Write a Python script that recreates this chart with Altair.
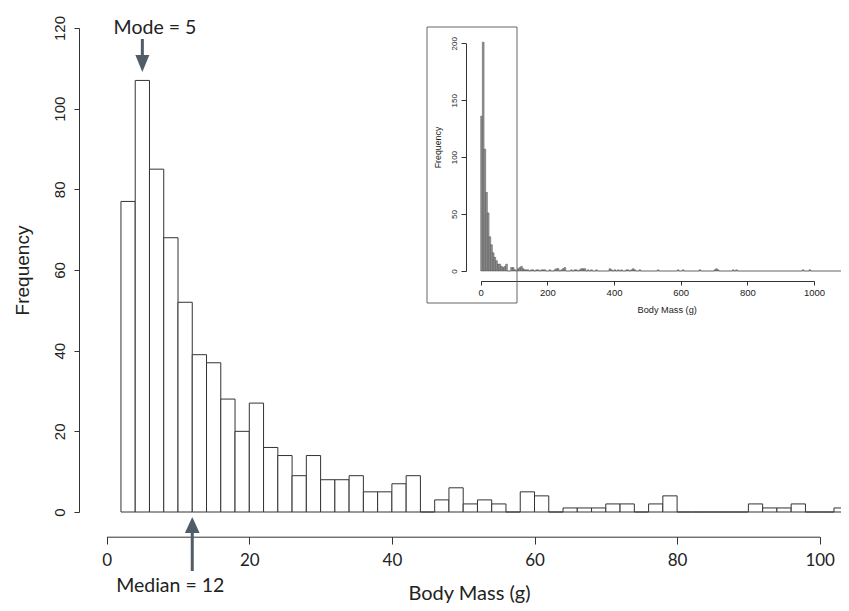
import altair as alt
import pandas as pd

# ---------------- data ----------------
main_bin_width = 2
main_first_edge = 2
main_counts = [77, 107, 85, 68, 52, 39, 37, 28, 20, 27,
               16, 14, 9, 14, 8, 8, 9, 5, 5, 7,
               9, 0, 3, 6, 2, 3, 2, 0, 5, 4,
               0, 1, 1, 1, 2, 2, 0, 2, 4, 0,
               0, 0, 0, 0, 2, 1, 1, 2, 0, 0,
               1]
main_x_ticks = [0, 20, 40, 60, 80, 100]
main_y_ticks = [0, 20, 40, 60, 80, 100, 120]

mode_value = 5
mode_label = "Mode = 5"
median_value = 12
median_label = "Median = 12"

inset_bin_width = 5
inset_last_edge = 1100
inset_head_counts = [136, 201, 107, 69, 51, 30, 23, 16, 12, 9,
                     6, 6, 4, 3, 4, 6, 0, 0, 3, 3, 1, 0]
inset_tail_starts = [110, 115, 120, 125, 130, 135, 140, 150, 155, 165, 170, 180, 185, 190,
                     205, 220, 225, 230, 240, 245, 250, 270, 280, 285, 295, 300, 305, 310,
                     320, 330, 345, 385, 390, 400, 410, 420, 435, 440, 450, 455, 460, 475,
                     530, 590, 605, 655, 700, 705, 710, 755, 765, 965, 985, 1095]
inset_tail_counts = [2, 3, 4, 2, 1, 1, 1, 1, 1, 1, 1, 1, 1, 1,
                     1, 1, 2, 2, 1, 2, 3, 1, 1, 1, 1, 2, 2, 2,
                     1, 1, 1, 2, 1, 1, 1, 1, 1, 1, 1, 2, 1, 1,
                     1, 1, 1, 1, 1, 2, 1, 1, 1, 1, 1, 1]
inset_x_ticks = [0, 200, 400, 600, 800, 1000]
inset_y_ticks = [0, 50, 100, 150, 200]

# ---------------- tables ----------------
main_df = pd.DataFrame({
    "start": [main_first_edge + i * main_bin_width for i in range(len(main_counts))],
    "end": [main_first_edge + (i + 1) * main_bin_width for i in range(len(main_counts))],
    "count": main_counts,
    "base": [0] * len(main_counts),
})

inset_map = {i * inset_bin_width: c for i, c in enumerate(inset_head_counts)}
inset_map.update(dict(zip(inset_tail_starts, inset_tail_counts)))
inset_starts = list(range(0, inset_last_edge, inset_bin_width))
inset_df = pd.DataFrame({
    "start": inset_starts,
    "end": [s + inset_bin_width for s in inset_starts],
    "count": [inset_map.get(s, 0) for s in inset_starts],
    "base": [0] * len(inset_starts),
})

mode_df = pd.DataFrame({"start": [mode_value], "label": [mode_label]})
median_df = pd.DataFrame({"start": [median_value], "label": [median_label]})

# ---------------- styles ----------------
W, H = 762, 484
ink = "#222222"
line_col = "#333333"
arrow_col = "#505c66"
sans = "Liberation Sans"
hum = "Lato"

xs_main = alt.Scale(domain=[0, 100], range=[27.7, 740.7], nice=False, zero=False)
ys_main = alt.Scale(domain=[0, 120], nice=False, zero=False)

main_x_axis = alt.Axis(
    values=main_x_ticks, orient="bottom", offset=24.7, grid=False,
    domainColor=line_col, domainWidth=1, tickColor=line_col, tickSize=7.3, tickWidth=1,
    labelFont=hum, labelFontSize=17, labelColor=ink, labelPadding=16,
    labelBaseline="middle", labelFlush=False, labelOverlap=False, labelBound=False,
    title="Body Mass (g)", titleFont=hum, titleFontSize=20, titleFontWeight="normal",
    titleColor=ink, titleX=390, titleY=57, titleBaseline="middle", titleAlign="center",
    format="d",
)
main_y_axis = alt.Axis(
    values=main_y_ticks, orient="left", grid=False,
    domainColor=line_col, domainWidth=1, tickColor=line_col, tickSize=5, tickWidth=1,
    labelFont=sans, labelFontSize=15, labelColor=ink, labelAngle=270,
    labelAlign="center", labelBaseline="middle", labelPadding=15,
    labelFlush=False, labelOverlap=False, labelBound=False,
    title="Frequency", titleFont=sans, titleFontSize=19, titleFontWeight="normal",
    titleColor=ink, titleX=-57, titleY=242, titleAngle=270, titleBaseline="middle",
    titleAlign="center", format="d",
)


def main_x():
    return alt.X("start:Q", scale=xs_main, axis=main_x_axis)


bars = alt.Chart(main_df).mark_rect(fill="white", stroke=line_col, strokeWidth=1).encode(
    x=main_x(),
    x2="end:Q",
    y=alt.Y("count:Q", scale=ys_main, axis=main_y_axis),
    y2="base:Q",
)

down_head = "M-1,-1.214L1,-1.214L0,1.214Z"
up_head = "M-1,1.09L1,1.09L0,-1.09Z"

mode_shaft = alt.Chart(mode_df).mark_rule(color=arrow_col, strokeWidth=3).encode(
    x=main_x(), y=alt.value(11), y2=alt.value(28))
mode_head = alt.Chart(mode_df).mark_point(shape=down_head, filled=True, color=arrow_col,
                                          opacity=1, size=196, strokeWidth=0).encode(
    x=main_x(), y=alt.value(35.5))
mode_text = alt.Chart(mode_df).mark_text(font=hum, fontSize=19.5, color=ink, dx=12.6,
                                         baseline="middle", align="center").encode(
    x=main_x(), y=alt.value(0), text="label:N")

median_shaft = alt.Chart(median_df).mark_rule(color=arrow_col, strokeWidth=3).encode(
    x=main_x(), y=alt.value(504), y2=alt.value(543))
median_head = alt.Chart(median_df).mark_point(shape=up_head, filled=True, color=arrow_col,
                                              opacity=1, size=216, strokeWidth=0).encode(
    x=main_x(), y=alt.value(497))
median_text = alt.Chart(median_df).mark_text(font=hum, fontSize=19.5, color=ink, dx=-22,
                                             baseline="middle", align="center").encode(
    x=main_x(), y=alt.value(558), text="label:N")

main_layer = alt.layer(bars, mode_shaft, mode_head, mode_text,
                       median_shaft, median_head, median_text)

# ---------------- inset ----------------
xs_in = alt.Scale(domain=[0, 1000], range=[401.7, 735], nice=False, zero=False)
ys_in = alt.Scale(domain=[0, 200], range=[243, 15.3], nice=False, zero=False)

inset_x_axis = alt.Axis(
    values=inset_x_ticks, orient="bottom", offset=-231, grid=False,
    domainColor=line_col, domainWidth=1, tickColor=line_col, tickSize=4, tickWidth=1,
    labelFont=sans, labelFontSize=9.5, labelColor=ink, labelPadding=7.7,
    labelBaseline="middle", labelFlush=False, labelOverlap=False, labelBound=False,
    title="Body Mass (g)", titleFont=sans, titleFontSize=9.2, titleFontWeight="normal",
    titleColor=ink, titleX=587.7, titleY=28, titleBaseline="middle", titleAlign="center",
    format="d",
)
inset_y_axis = alt.Axis(
    values=inset_y_ticks, orient="left", offset=-387, grid=False,
    domainColor=line_col, domainWidth=1, tickColor=line_col, tickSize=5, tickWidth=1,
    labelFont=sans, labelFontSize=8, labelColor=ink, labelAngle=270,
    labelAlign="center", labelBaseline="middle", labelPadding=7,
    labelFlush=False, labelOverlap=False, labelBound=False,
    title="Frequency", titleFont=sans, titleFontSize=8.8, titleFontWeight="normal",
    titleColor=ink, titleX=-29, titleY=119, titleAngle=270, titleBaseline="middle",
    titleAlign="center", format="d",
)

inset_bars = alt.Chart(inset_df).mark_rect(fill="#9c9c9c", stroke="#3a3a3a", strokeWidth=0.45).encode(
    x=alt.X("start:Q", scale=xs_in, axis=inset_x_axis),
    x2="end:Q",
    y=alt.Y("count:Q", scale=ys_in, axis=inset_y_axis),
    y2="base:Q",
)

box = alt.Chart(pd.DataFrame({"k": [0]})).mark_rect(
    fill="white", fillOpacity=0, stroke="#666666", strokeWidth=1).encode(
    x=alt.value(348), x2=alt.value(438), y=alt.value(-1), y2=alt.value(275))

inset_layer = alt.layer(inset_bars, box)

chart = alt.layer(main_layer, inset_layer).resolve_scale(
    x="independent", y="independent"
).properties(
    width=W, height=H,
    padding={"left": 71, "top": 20, "right": 0, "bottom": 91},
    autosize=alt.AutoSizeParams(type="none"),
    background="white",
).configure_view(stroke=None)

chart.save("out.html", embed_options={"renderer": "svg", "actions": False})
